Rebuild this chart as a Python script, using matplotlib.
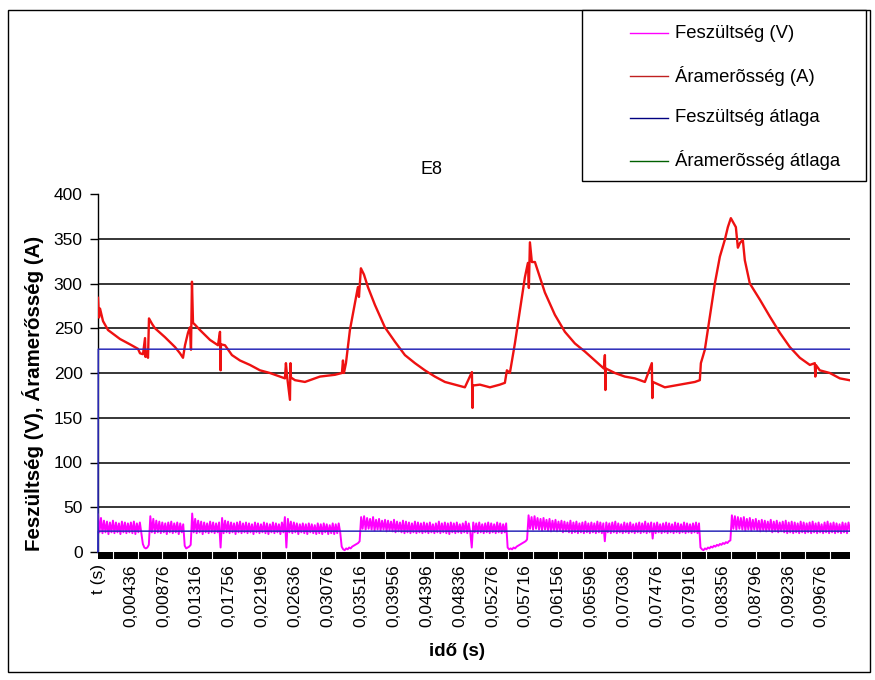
import matplotlib
matplotlib.use("Agg")
import matplotlib.pyplot as plt
import numpy as np
from matplotlib.patches import Rectangle
from matplotlib.lines import Line2D

plt.rcParams['font.family'] = ['Liberation Sans', 'DejaVu Sans']

# --- data ---
# current (A): time in s, value in A
cur_t = [0.00000, 0.00013, 0.00027, 0.00067, 0.00134, 0.00294, 0.00428, 0.00535,
         0.00562, 0.00602, 0.00629, 0.00635, 0.00642, 0.00669, 0.00682, 0.00722,
         0.00762, 0.00896, 0.01030, 0.01097, 0.01137, 0.01164, 0.01204, 0.01230,
         0.01244, 0.01257, 0.01271, 0.01297, 0.01364, 0.01498, 0.01605, 0.01632,
         0.01640, 0.01645, 0.01699, 0.01792, 0.01899, 0.02033, 0.02167, 0.02300,
         0.02434, 0.02501, 0.02514, 0.02530, 0.02568, 0.02575, 0.02581, 0.02635,
         0.02768, 0.02969, 0.03170, 0.03263, 0.03277, 0.03290, 0.03317, 0.03370,
         0.03437, 0.03477, 0.03491, 0.03517, 0.03558, 0.03611, 0.03705, 0.03838,
         0.03972, 0.04106, 0.04240, 0.04373, 0.04507, 0.04641, 0.04775, 0.04908,
         0.05002, 0.05010, 0.05015, 0.05109, 0.05243, 0.05376, 0.05443, 0.05470,
         0.05510, 0.05577, 0.05644, 0.05711, 0.05751, 0.05764, 0.05778, 0.05804,
         0.05845, 0.05912, 0.05978, 0.06112, 0.06246, 0.06380, 0.06513, 0.06647,
         0.06767, 0.06781, 0.06788, 0.06794, 0.06915, 0.07048, 0.07182, 0.07316,
         0.07409, 0.07416, 0.07423, 0.07583, 0.07784, 0.07985, 0.08051, 0.08065,
         0.08118, 0.08185, 0.08252, 0.08319, 0.08386, 0.08426, 0.08466, 0.08506,
         0.08533, 0.08560, 0.08586, 0.08626, 0.08653, 0.08720, 0.08854, 0.08988,
         0.09121, 0.09255, 0.09389, 0.09523, 0.09589, 0.09596, 0.09603, 0.09656,
         0.09790, 0.09924, 0.10050]
cur_a = [284, 262, 272, 258, 248, 238, 232, 227,
         222, 221, 239, 218, 224, 217, 261, 255,
         250, 240, 229, 222, 217, 231, 245, 251,
         226, 302, 256, 254, 248, 237, 231, 246,
         203, 232, 231, 220, 214, 209, 203, 200,
         196, 194, 211, 196, 170, 211, 195, 192,
         190, 196, 198, 200, 214, 200, 211, 248,
         278, 296, 285, 317, 310, 296, 276, 251,
         235, 220, 211, 203, 196, 190, 187, 184,
         201, 161, 186, 187, 184, 187, 189, 203,
         200, 233, 270, 307, 323, 295, 346, 324,
         324, 307, 290, 265, 246, 233, 224, 214,
         205, 220, 181, 205, 200, 196, 194, 190,
         211, 172, 190, 184, 187, 190, 192, 211,
         226, 263, 300, 330, 349, 363, 373, 367,
         363, 340, 345, 349, 326, 300, 282, 263,
         245, 229, 217, 209, 211, 196, 209, 203,
         200, 194, 192]

# voltage (V), one reading every 0.2 ms
volt_step = 0.0002
volt_v = [42, 22, 38, 21, 35, 22, 34, 20, 33, 22, 35, 21, 33, 22, 32, 20, 34, 22, 33, 21,
          32, 22, 33, 21, 34, 20, 32, 22, 33, 21, 9, 5, 4, 5, 8, 40, 22, 37, 21, 35,
          22, 34, 21, 33, 22, 32, 20, 33, 22, 34, 21, 32, 22, 33, 20, 32, 22, 31, 7, 4,
          5, 6, 8, 43, 22, 37, 21, 35, 22, 34, 20, 33, 22, 32, 21, 34, 22, 33, 21, 32,
          22, 33, 5, 38, 21, 35, 22, 34, 21, 33, 22, 32, 20, 33, 22, 34, 21, 32, 22, 33,
          21, 32, 22, 31, 20, 33, 22, 32, 21, 31, 22, 33, 21, 32, 20, 31, 22, 33, 21, 32,
          22, 31, 20, 33, 22, 39, 5, 37, 22, 34, 21, 33, 22, 32, 20, 31, 22, 32, 21, 31,
          20, 32, 22, 31, 21, 30, 20, 32, 21, 31, 20, 32, 22, 31, 20, 30, 21, 32, 20, 31,
          21, 32, 22, 6, 3, 2, 4, 3, 5, 4, 6, 7, 8, 9, 10, 12, 39, 26, 40, 25,
          38, 26, 37, 25, 39, 24, 36, 25, 37, 24, 35, 25, 36, 23, 35, 24, 34, 23, 36, 22,
          34, 23, 33, 22, 35, 21, 34, 22, 33, 21, 32, 22, 34, 21, 33, 22, 32, 21, 33, 22,
          32, 21, 33, 22, 31, 21, 32, 22, 34, 21, 32, 22, 33, 21, 32, 20, 33, 22, 32, 21,
          33, 22, 31, 21, 32, 22, 34, 21, 32, 22, 5, 33, 22, 32, 21, 33, 22, 31, 21, 32,
          22, 33, 21, 32, 22, 31, 21, 33, 22, 32, 21, 31, 22, 32, 5, 3, 4, 3, 5, 4,
          6, 7, 8, 9, 10, 11, 12, 14, 41, 26, 39, 25, 40, 26, 38, 25, 37, 24, 38, 25,
          36, 24, 37, 23, 35, 24, 36, 23, 34, 24, 35, 22, 34, 23, 33, 22, 35, 21, 33, 22,
          34, 21, 32, 22, 33, 21, 34, 22, 32, 21, 33, 22, 32, 21, 34, 22, 33, 21, 32, 12,
          33, 22, 32, 21, 33, 22, 34, 21, 32, 22, 31, 21, 33, 22, 32, 21, 33, 22, 31, 21,
          32, 22, 33, 21, 32, 22, 34, 21, 32, 22, 33, 15, 32, 21, 33, 22, 31, 21, 32, 22,
          33, 21, 32, 22, 31, 21, 33, 22, 32, 21, 31, 22, 33, 21, 32, 22, 31, 21, 32, 22,
          33, 21, 32, 5, 3, 2, 4, 3, 5, 4, 6, 5, 7, 6, 8, 7, 9, 8, 10, 9,
          11, 10, 12, 13, 41, 26, 40, 25, 39, 26, 38, 25, 39, 24, 37, 25, 38, 24, 36, 25,
          37, 24, 35, 23, 36, 24, 35, 23, 34, 24, 36, 22, 34, 23, 35, 22, 33, 23, 34, 22,
          35, 21, 33, 22, 34, 21, 33, 22, 32, 21, 34, 22, 33, 21, 32, 22, 33, 21, 34, 22,
          32, 21, 33, 22, 31, 21, 33, 22, 34, 21, 32, 22, 33, 21, 32, 22, 31, 21, 33, 22,
          32, 21, 33, 24]
volt_t = np.arange(len(volt_v)) * volt_step

# averages (first point is the header row -> 0)
avg_t = [0.0, 0.00004, 0.10050]
volt_avg = [0, 23.3, 23.3]
cur_avg = [0, 226.6, 226.6]

x_labels = ['t (s)', '0,00436', '0,00876', '0,01316', '0,01756', '0,02196',
            '0,02636', '0,03076', '0,03516', '0,03956', '0,04396', '0,04836',
            '0,05276', '0,05716', '0,06156', '0,06596', '0,07036', '0,07476',
            '0,07916', '0,08356', '0,08796', '0,09236', '0,09676']
legend_labels = ['Feszültség (V)', 'Áramerõsség (A)', 'Feszültség átlaga', 'Áramerõsség átlaga']

W, H = 875, 680
fx = lambda px: px / W
fy = lambda py: 1 - py / H

fig = plt.figure(figsize=(8.75, 6.8), dpi=100)
fig.patch.set_facecolor('white')

# outer chart border
fig.patches.append(Rectangle((fx(8), fy(672)), fx(870) - fx(8), fy(10) - fy(672),
                             transform=fig.transFigure, fill=False, edgecolor='black', lw=1.0))

ax = fig.add_axes([fx(98), fy(552), fx(850) - fx(98), fy(194) - fy(552)])
ax.set_xlim(0, 0.1006)
ax.set_ylim(0, 400)

# grid lines 50..350
for g in range(50, 400, 50):
    ax.axhline(g, color='black', lw=1.1, zorder=1)

ax.plot(cur_t, cur_a, color='#ee1111', lw=1.7, zorder=3)
ax.plot(volt_t, volt_v, color='#ff00ff', lw=1.4, zorder=3)
ax.plot(avg_t, cur_avg, color='#2a2ab8', lw=1.1, zorder=4, clip_on=False)
ax.plot(avg_t, volt_avg, color='#2a2ab8', lw=1.1, zorder=4, clip_on=False)

for s in ['top', 'right', 'bottom']:
    ax.spines[s].set_visible(False)
ax.spines['left'].set_color('black')
ax.spines['left'].set_linewidth(1.0)
ax.spines['left'].set_zorder(2)

ax.set_yticks(range(0, 401, 50))
ax.tick_params(axis='y', direction='out', length=6, width=1, labelsize=12.5, pad=5)

# x axis: dense category ticks drawn as a black band
band_h = 7 / (552 - 194)
ax.add_patch(Rectangle((0, -band_h), 0.1006, band_h, transform=ax.get_xaxis_transform(),
                       facecolor='black', edgecolor='none', clip_on=False, zorder=5))
gap_t = 0.00201
while gap_t < 0.1006:
    ax.plot([gap_t, gap_t], [-band_h, 0], transform=ax.get_xaxis_transform(),
            color='white', lw=0.8, clip_on=False, zorder=6)
    gap_t += 0.003306

x_pos = [0.0] + [float(s.replace(',', '.')) for s in x_labels[1:]]
ax.set_xticks(x_pos)
ax.set_xticklabels(x_labels, rotation=90, fontsize=12.5)
ax.tick_params(axis='x', length=0, pad=9)

# titles
fig.text(fx(432), fy(170), 'E8', fontsize=13, ha='center', va='center')
fig.text(fx(33), fy(393), 'Feszültség (V), Áramerősség (A)', rotation=90, fontsize=14.8,
         fontweight='bold', ha='center', va='center')
fig.text(fx(457), fy(651), 'idő (s)', fontsize=13.5, fontweight='bold', ha='center', va='center')

# legend box
fig.patches.append(Rectangle((fx(582), fy(181)), fx(866) - fx(582), fy(10) - fy(181),
                             transform=fig.transFigure, facecolor='white', edgecolor='black',
                             lw=1.0, zorder=10))
leg_colors = ['#ff00ff', '#c02020', '#000080', '#006000']
for i, (lab, c) in enumerate(zip(legend_labels, leg_colors)):
    yy = fy(33 + i * 42.5)
    fig.add_artist(Line2D([fx(630), fx(668)], [yy, yy], color=c, lw=1.0,
                          transform=fig.transFigure, zorder=11))
    fig.text(fx(675), yy, lab, fontsize=13.3, ha='left', va='center', zorder=11)

fig.savefig('out.png', dpi=100)
